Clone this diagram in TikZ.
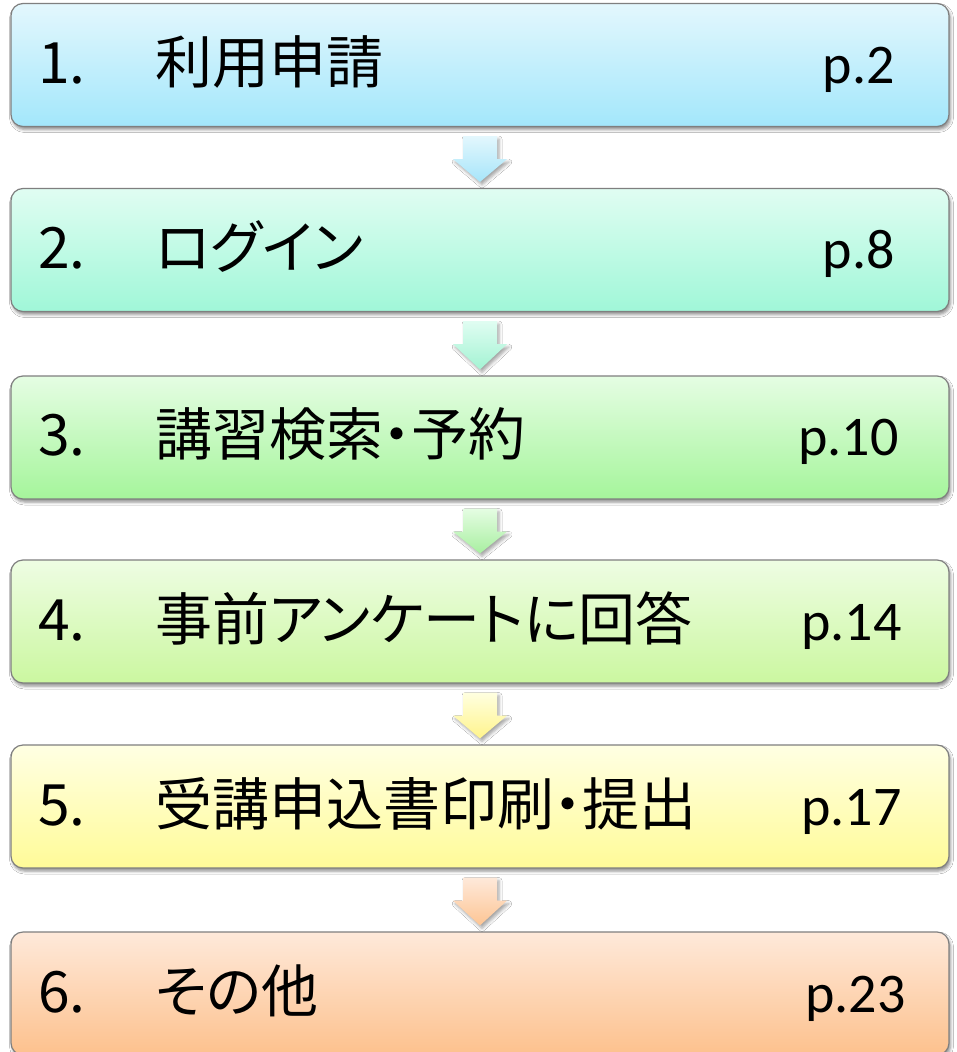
\documentclass[tikz,border=0pt]{standalone}
\usepackage{fontspec}
\newfontfamily\jpfont[RawFeature=+palt]{Noto Sans CJK JP}
\newfontfamily\pgfont{Carlito}
\usetikzlibrary{shadows.blur}
\definecolor{c1t}{HTML}{E3F7FD}\definecolor{c1b}{HTML}{A3E7FB}
\definecolor{c2t}{HTML}{E0FDF2}\definecolor{c2b}{HTML}{A0F7D8}
\definecolor{c3t}{HTML}{E5FDE3}\definecolor{c3b}{HTML}{A5F59B}
\definecolor{c4t}{HTML}{EEFDE3}\definecolor{c4b}{HTML}{CBF7A0}
\definecolor{c5t}{HTML}{FFFFE3}\definecolor{c5b}{HTML}{FFFB98}
\definecolor{c6t}{HTML}{FEE9DA}\definecolor{c6b}{HTML}{FDC18D}
\definecolor{a1t}{HTML}{E3F7FD}\definecolor{a1b}{HTML}{A6E5FA}
\definecolor{a2t}{HTML}{E0FDF2}\definecolor{a2b}{HTML}{A3F3D3}
\definecolor{a3t}{HTML}{E5FDE3}\definecolor{a3b}{HTML}{A8EFA0}
\definecolor{a4t}{HTML}{FFFFE0}\definecolor{a4b}{HTML}{FFF48C}
\definecolor{a5t}{HTML}{FEE9DA}\definecolor{a5b}{HTML}{FDC594}
\definecolor{edge}{HTML}{7F7F7F}
\tikzset{
  stepbox/.style={draw=edge, line width=1.2pt, rounded corners=12pt,
    minimum width=938pt, minimum height=123pt, inner sep=0pt,
    blur shadow={shadow xshift=1.5pt, shadow yshift=-3pt, shadow blur radius=3pt, shadow opacity=45}},
  numtext/.style={anchor=base west, inner sep=0pt, font=\jpfont\fontsize{57}{60}\selectfont},
  titletext/.style={anchor=base west, inner sep=0pt, font=\jpfont\fontsize{57}{60}\selectfont},
  pagetext/.style={anchor=base east, inner sep=0pt, font=\pgfont\fontsize{56}{60}\selectfont},
  blockarrow/.style={draw=none,
    blur shadow={shadow xshift=2pt, shadow yshift=-3pt, shadow blur radius=3pt, shadow opacity=35}},
}
\newcommand{\blockarr}[4]{%
  \path[blockarrow, top color=#3, bottom color=#4]
    ([xshift=-17pt,yshift=-9pt]#1.south) -- ([xshift=17pt,yshift=-9pt]#1.south)
    -- ([xshift=17pt,yshift=-32pt]#1.south) -- ([xshift=27pt,yshift=-32pt]#1.south)
    -- ([yshift=6pt]#2.north) -- ([xshift=-27pt,yshift=-32pt]#1.south)
    -- ([xshift=-17pt,yshift=-32pt]#1.south) -- cycle;}
\begin{document}
\begin{tikzpicture}[x=1pt,y=-1pt]
\clip (0,0) rectangle (956,1052);
\fill[white] (0,0) rectangle (956,1052);
\node[stepbox, top color=c1t, bottom color=c1b] (b1) at (480,65) {};
\node[stepbox, top color=c2t, bottom color=c2b] (b2) at (480,250) {};
\node[stepbox, top color=c3t, bottom color=c3b] (b3) at (480,437.5) {};
\node[stepbox, top color=c4t, bottom color=c4b] (b4) at (480,621.5) {};
\node[stepbox, top color=c5t, bottom color=c5b] (b5) at (480,806.5) {};
\node[stepbox, top color=c6t, bottom color=c6b] (b6) at (480,993.5) {};
\blockarr{b1}{b2}{a1t}{a1b}
\blockarr{b2}{b3}{a2t}{a2b}
\blockarr{b3}{b4}{a3t}{a3b}
\blockarr{b4}{b5}{a4t}{a4b}
\blockarr{b5}{b6}{a5t}{a5b}
\node[numtext] (n1) at (38,83) {1.};
\node[titletext] (t1) at (155,83) {利用申請};
\node[pagetext] (p1) at (895,83) {p.2};
\node[numtext] (n2) at (38,268) {2.};
\node[titletext] (t2) at (155,268) {ログイン};
\node[pagetext] (p2) at (895,268) {p.8};
\node[numtext] (n3) at (38,455) {3.};
\node[titletext] (t3) at (155,455) {講習検索・予約};
\node[pagetext] (p3) at (899,455) {p.10};
\node[numtext] (n4) at (38,640) {4.};
\node[titletext] (t4) at (155,640) {事前アンケートに回答};
\node[pagetext] (p4) at (902,640) {p.14};
\node[numtext] (n5) at (38,825) {5.};
\node[titletext] (t5) at (155,825) {受講申込書印刷・提出};
\node[pagetext] (p5) at (902,825) {p.17};
\node[numtext] (n6) at (38,1012) {6.};
\node[titletext] (t6) at (155,1012) {その他};
\node[pagetext] (p6) at (906,1012) {p.23};
\end{tikzpicture}
\end{document}
